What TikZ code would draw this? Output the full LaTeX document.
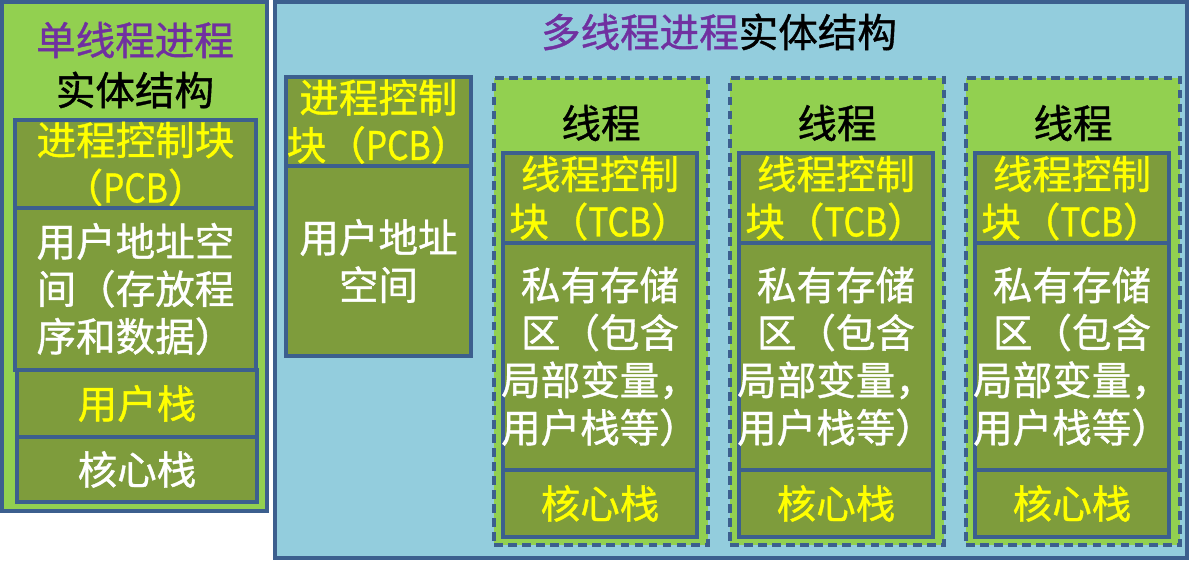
\documentclass[tikz,border=0pt]{standalone}
\usepackage{fontspec}
\setmainfont{Noto Sans CJK SC}[FakeBold=1]
\usetikzlibrary{fit}
\definecolor{lgreen}{HTML}{92D050}
\definecolor{olive}{HTML}{7E9C3C}
\definecolor{lblue}{HTML}{93CDDD}
\definecolor{edge}{HTML}{3C5F8E}
\definecolor{tpurple}{HTML}{7030A0}
\definecolor{tyellow}{HTML}{FFFF00}
\newcommand{\cjkbig}{\fontsize{22.5}{27}\selectfont}
\newcommand{\abbr}[1]{\scalebox{0.85}[1]{#1}}

\begin{document}
\begin{tikzpicture}[x=0.02cm,y=-0.02cm,
    box/.style={draw=edge,line width=2pt,inner sep=0pt},
    cell/.style={box,fill=olive},
    dashbox/.style={box,fill=lgreen,dash pattern=on 5pt off 3pt},
    txt/.style={align=center,font=\cjkbig,inner sep=0pt},
    yel/.style={txt,text=tyellow},
    wht/.style={txt,text=white}]
  \useasboundingbox (0,0) rectangle (1190,561);
  % single-threaded process
  \node[box,fill=lgreen,fit={(2,2)(267,511)}] (single) {};
  \node[txt,text=tpurple] (stitle) at (135,40) {单线程进程};
  \node[txt] (ssub) at (135,90) {实体结构};
  \node[cell,fit={(15,120)(256,208)}] (spcb) {};
  \node[yel] at (spcb) {进程控制块\\（\abbr{PCB}）};
  \node[cell,fit={(15,208)(256,370)}] (sspace) {};
  \node[wht] at (sspace) {用户地址空\\间（存放程\\序和数据）};
  \node[cell,fit={(17,370)(257,437)}] (sustack) {};
  \node[yel] at (sustack) {用户栈};
  \node[cell,fit={(17,437)(257,502)}] (skstack) {};
  \node[wht] at (skstack) {核心栈};
  % multi-threaded process
  \node[box,fill=lblue,fit={(275,2)(1187,558)}] (multi) {};
  \node[txt] (mtitle) at (719,32) {\textcolor{tpurple}{多线程进程}实体结构};
  \node[cell,fit={(286,77)(471,166)}] (mpcb) {};
  \node[yel] at (mpcb) {进程控制\\块（\abbr{PCB}）};
  \node[cell,fit={(286,166)(471,356)}] (mspace) {};
  \node[wht] at (mspace) {用户地址\\空间};
  \foreach \i/\x in {1/494,2/730,3/966}{
    \node[dashbox,fit={(\x,78)(\x+214,545)}] (thr\i) {};
    \node[txt] (thlbl\i) at (\x+107,123) {线程};
    \node[cell,fit={(\x+9,153)(\x+203,243)}] (tcb\i) {};
    \node[yel] at (tcb\i) {线程控制\\块（\abbr{TCB}）};
    \node[cell,fit={(\x+9,243)(\x+203,470)}] (priv\i) {};
    \node[wht] at (priv\i) {私有存储\\区（包含\\局部变量，\\用户栈等）};
    \node[cell,fit={(\x+9,470)(\x+203,537)}] (kstack\i) {};
    \node[yel] at (kstack\i) {核心栈};
  }
\end{tikzpicture}
\end{document}
